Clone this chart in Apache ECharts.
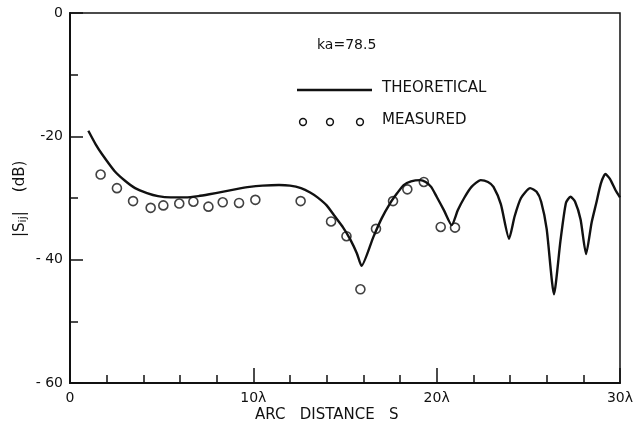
<!DOCTYPE html>
<html>
<head>
<meta charset="utf-8">
<script src="https://cdn.jsdelivr.net/npm/echarts@6/dist/echarts.min.js"></script>
<style>
  html, body { margin: 0; padding: 0; background: #fff; }
  #chart { width: 638px; height: 426px; }
</style>
</head>
<body>
<div id="chart"></div>
<script>
// arc distance (in wavelengths) vs |Sij| (dB)
const theoretical = [
  [1.0, -19.1], [1.4, -21.3], [1.75, -22.9], [2.45, -25.7], [3.0, -27.2], [3.55, -28.4],
  [4.2, -29.2], [4.8, -29.7], [5.5, -29.9], [6.3, -29.9], [7.0, -29.7], [7.6, -29.4],
  [8.3, -29.0], [9.0, -28.6], [9.8, -28.2], [10.5, -28.0], [11.4, -27.9], [12.0, -28.0],
  [12.6, -28.4], [13.1, -29.1], [13.5, -29.9], [14.0, -31.2], [14.4, -32.8], [14.9, -34.8],
  [15.3, -36.8], [15.65, -39.0], [15.9, -41.0], [16.55, -36.3], [17.0, -33.3],
  [17.45, -30.9], [17.85, -29.2], [18.2, -27.9], [18.6, -27.3], [19.1, -27.1], [19.4, -27.4],
  [19.7, -28.2], [20.0, -29.8], [20.4, -32.0], [20.82, -34.4], [21.15, -32.0], [21.5, -30.0],
  [21.9, -28.2], [22.4, -27.1], [22.8, -27.4], [23.1, -28.2], [23.5, -31.0], [23.95, -36.6],
  [24.25, -33.0], [24.6, -30.0], [25.1, -28.4], [25.45, -29.0], [25.7, -30.6], [26.0, -35.0],
  [26.4, -45.6], [26.75, -37.0], [27.05, -30.8], [27.3, -29.8], [27.55, -30.6], [27.85, -33.5],
  [28.15, -39.1], [28.45, -34.0], [28.7, -30.9], [28.95, -27.7], [29.2, -26.1], [29.45, -26.9],
  [29.75, -28.7], [30.0, -29.9]
];

const measured = [
  [1.67, -26.2], [2.56, -28.4], [3.44, -30.5], [4.40, -31.6], [5.09, -31.2], [5.96, -30.9],
  [6.73, -30.6], [7.55, -31.4], [8.33, -30.7], [9.22, -30.8], [10.11, -30.3], [12.58, -30.5],
  [14.24, -33.8], [15.08, -36.2], [15.84, -44.8], [16.69, -35.0], [17.62, -30.5], [18.40, -28.6],
  [19.30, -27.4], [20.22, -34.7], [21.0, -34.8]
];

const xTickLabels = ['0', '10λ', '20λ', '30λ'];
const yTickLabels = ['0', '-20', '- 40', '- 60'];

const font = 'DejaVu Sans';
const ink = '#111';

const chart = echarts.init(document.getElementById('chart'));

chart.setOption({
  animation: false,
  backgroundColor: '#fff',
  grid: {
    left: 70, right: 18, top: 13, bottom: 43,
    show: true, borderColor: ink, borderWidth: 1.5, backgroundColor: 'transparent'
  },
  xAxis: {
    type: 'value', min: 0, max: 30, interval: 10,
    axisLine: { show: true, onZero: false, lineStyle: { color: ink, width: 2 } },
    axisTick: { show: true, inside: true, length: 15, lineStyle: { color: ink, width: 1.5 } },
    minorTick: { show: true, splitNumber: 5, length: 8, lineStyle: { color: ink, width: 1.5 } },
    splitLine: { show: false },
    axisLabel: {
      color: ink, fontFamily: font, fontSize: 14, margin: 8,
      formatter: v => xTickLabels[Math.round(v / 10)]
    }
  },
  yAxis: {
    type: 'value', min: -60, max: 0, interval: 20,
    axisLine: { show: true, onZero: false, lineStyle: { color: ink, width: 2 } },
    axisTick: { show: true, inside: true, length: 13, lineStyle: { color: ink, width: 1.5 } },
    minorTick: { show: true, splitNumber: 2, length: 8, lineStyle: { color: ink, width: 1.5 } },
    splitLine: { show: false },
    axisLabel: {
      color: ink, fontFamily: font, fontSize: 14, margin: 7,
      formatter: v => yTickLabels[Math.round(-v / 20)]
    }
  },
  series: [
    {
      name: 'THEORETICAL', type: 'line', data: theoretical,
      smooth: 0.2, showSymbol: false,
      lineStyle: { color: ink, width: 2.4, join: 'round' }
    },
    {
      name: 'MEASURED', type: 'scatter', data: measured,
      symbol: 'circle', symbolSize: 9,
      itemStyle: { color: '#fff', borderColor: ink, borderWidth: 1.6 }
    }
  ],
  graphic: [
    { type: 'text', left: 317, top: 38, style: { text: 'ka=78.5', font: '14px "DejaVu Sans"', fill: ink } },
    { type: 'line', shape: { x1: 297, y1: 90, x2: 372, y2: 90 }, style: { stroke: ink, lineWidth: 2.4 } },
    { type: 'text', left: 382, top: 81, style: { text: 'THEORETICAL', font: '15px "DejaVu Sans"', fill: ink } },
    { type: 'circle', shape: { cx: 303, cy: 122, r: 3.4 }, style: { fill: '#fff', stroke: ink, lineWidth: 1.5 } },
    { type: 'circle', shape: { cx: 330, cy: 122, r: 3.4 }, style: { fill: '#fff', stroke: ink, lineWidth: 1.5 } },
    { type: 'circle', shape: { cx: 360, cy: 122, r: 3.4 }, style: { fill: '#fff', stroke: ink, lineWidth: 1.5 } },
    { type: 'text', left: 382, top: 113, style: { text: 'MEASURED', font: '15px "DejaVu Sans"', fill: ink } },
    { type: 'text', left: 255, top: 408, style: { text: 'ARC   DISTANCE   S', font: '15px "DejaVu Sans"', fill: ink } },
    {
      type: 'text', x: 12, y: 237, rotation: Math.PI / 2,
      style: {
        text: '|S{s|ij}|    (dB)', font: '15px "DejaVu Sans"', fill: ink,
        rich: { s: { fontSize: 11, fontFamily: font, fill: ink, padding: [6, 0, 0, 0] } }
      }
    }
  ]
});
</script>
</body>
</html>
